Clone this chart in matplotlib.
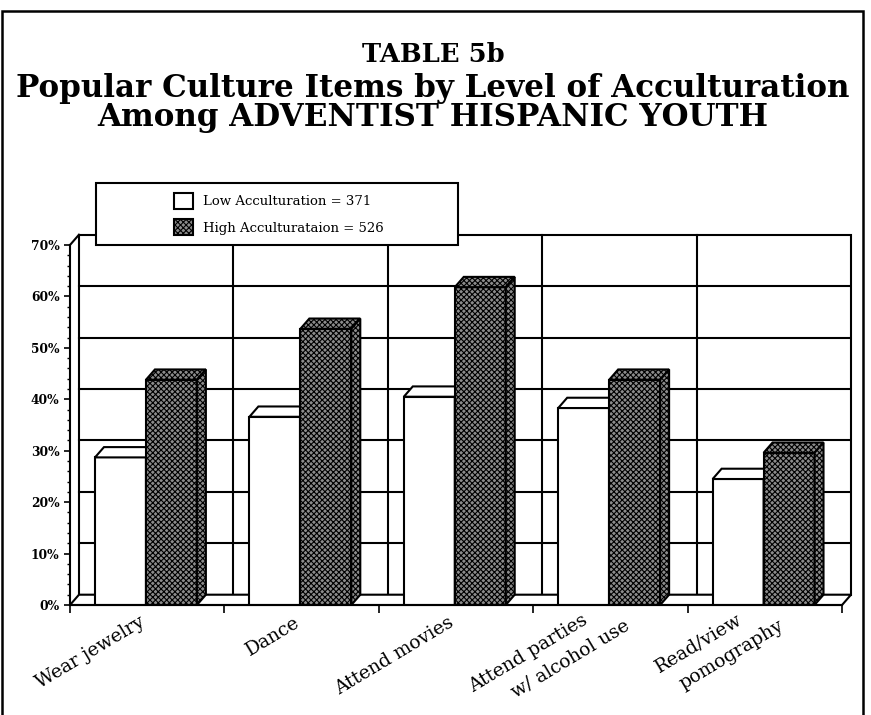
import numpy as np
import matplotlib.pyplot as plt
from matplotlib.patches import Polygon, Rectangle

# dados
categorias = ["Wear jewelry", "Dance", "Attend movies",
              "Attend parties\nw/ alcohol use", "Read/view\npomography"]
baixa = [28.7, 36.6, 40.5, 38.3, 24.5]
alta = [43.8, 53.7, 61.8, 43.8, 29.6]
rotulo_baixa = "Low Acculturation = 371"
rotulo_alta = "High Acculturataion = 526"
ticks_y = [0, 10, 20, 30, 40, 50, 60, 70]
titulo = ["TABLE 5b",
          "Popular Culture Items by Level of Acculturation\nAmong ADVENTIST HISPANIC YOUTH"]

# profundidade do efeito 3D (unidades de dados)
DX = 0.058
DY = 2.0
G = 0.162
W = 0.33
LW = 1.5
FONTE = "DejaVu Serif"
PADRAO = 'xxxxxx'
CINZA = '#8c8c8c'

plt.rcParams['hatch.linewidth'] = 0.8

fig = plt.figure(figsize=(8.71, 7.15), dpi=100)
ax = fig.add_axes([70 / 871, 110 / 715, 781 / 871, 370.3 / 715])
ax.set_xlim(0, 5 + DX)
ax.set_ylim(0, 70 + DY)

# parede do fundo com grade
ax.add_patch(Rectangle((DX, DY), 5, 70, facecolor='white', edgecolor='black', lw=LW,
                       zorder=1, clip_on=False))
for t in ticks_y[1:-1]:
    ax.plot([DX, 5 + DX], [t + DY, t + DY], color='black', lw=LW, zorder=1.5)
for i in range(1, 5):
    ax.plot([i + DX, i + DX], [DY, 70 + DY], color='black', lw=LW, zorder=1.5, clip_on=False)
ax.plot([0, DX], [70, 70 + DY], color='black', lw=LW, zorder=1.5, clip_on=False)

# chao
ax.add_patch(Polygon([(0, 0), (5, 0), (5 + DX, DY), (DX, DY)], closed=True,
                     facecolor='white', edgecolor='black', lw=LW, zorder=2, clip_on=False))

x = np.arange(len(categorias))
b1 = ax.bar(x + G, baixa, width=W, align='edge', facecolor='white',
            edgecolor='black', lw=LW, zorder=3, label=rotulo_baixa)
b2 = ax.bar(x + G + W, alta, width=W, align='edge', facecolor=CINZA, hatch=PADRAO,
            edgecolor='black', lw=LW, zorder=5, label=rotulo_alta)


def faces(x0, v, z, cor='white', hatch=None):
    x1 = x0 + W
    topo = Polygon([(x0, v), (x1, v), (x1 + DX, v + DY), (x0 + DX, v + DY)], closed=True,
                   facecolor=cor, edgecolor='black', lw=LW, hatch=hatch, zorder=z)
    lado = Polygon([(x1, 0), (x1, v), (x1 + DX, v + DY), (x1 + DX, DY)], closed=True,
                   facecolor=cor, edgecolor='black', lw=LW, hatch=hatch, zorder=z)
    ax.add_patch(topo)
    ax.add_patch(lado)


for i in range(len(categorias)):
    faces(i + G, baixa[i], 3)
    faces(i + G + W, alta[i], 5, cor=CINZA, hatch=PADRAO)

# eixos
for s in ['top', 'right']:
    ax.spines[s].set_visible(False)
ax.spines['left'].set_bounds(0, 70)
ax.spines['bottom'].set_bounds(0, 5)
for s in ['left', 'bottom']:
    ax.spines[s].set_linewidth(LW)
    ax.spines[s].set_zorder(6)

ax.set_yticks(ticks_y, labels=[f"{t}%" for t in ticks_y])
ax.set_yticks(np.arange(0, 71, 2), minor=True)
ax.tick_params(axis='y', which='major', length=4.5, width=1.2, pad=3)
ax.tick_params(axis='y', which='minor', length=2.2, width=1.0)
for lab in ax.get_yticklabels():
    lab.set_fontfamily(FONTE)
    lab.set_fontweight('bold')
    lab.set_fontsize(8.8)

ax.set_xticks(range(6), labels=[""] * 6)
ax.tick_params(axis='x', length=6, width=1.2)

# rotulos inclinados, cada linha deslocada
ANG = 31
for i, nome in enumerate(categorias):
    linhas = nome.split("\n")
    n = len(linhas)
    for k, linha in enumerate(linhas):
        f = k - (n - 1) / 2
        ax.annotate(linha, xy=(i + 0.5, 0), xytext=(-6 + f * 30, -6 - f * 4),
                    textcoords='offset points', rotation=ANG, rotation_mode='anchor',
                    ha='right', va='top', fontsize=13.5, family=FONTE)

# legenda
fig.add_artist(Rectangle((96 / 871, 1 - 245 / 715), 362 / 871, 62 / 715,
                         transform=fig.transFigure, facecolor='white', edgecolor='black',
                         lw=LW, zorder=3))
fig.legend(handles=[b1, b2], labels=[rotulo_baixa, rotulo_alta], loc='upper left',
           bbox_to_anchor=(167 / 871, 1 - 186 / 715), frameon=False, borderpad=0,
           handlelength=1.5, handleheight=1.5, labelspacing=0.8, handletextpad=0.75,
           prop={'family': FONTE, 'size': 9.5})

# moldura externa
fig.add_artist(Rectangle((2 / 871, -0.02), 861 / 871, 1.02 - 11 / 715,
                         transform=fig.transFigure, facecolor='none', edgecolor='black',
                         lw=1.8, zorder=10))

# titulo
fig.text(0.497, 1 - 62 / 715, titulo[0], ha='center', va='baseline', fontsize=18.5,
         fontweight='bold', family=FONTE)
fig.text(0.497, 1 - 73 / 715, titulo[1], ha='center', va='top', fontsize=22.3,
         fontweight='bold', family=FONTE, multialignment='center', linespacing=0.92)

fig.savefig('out.png', dpi=100)
